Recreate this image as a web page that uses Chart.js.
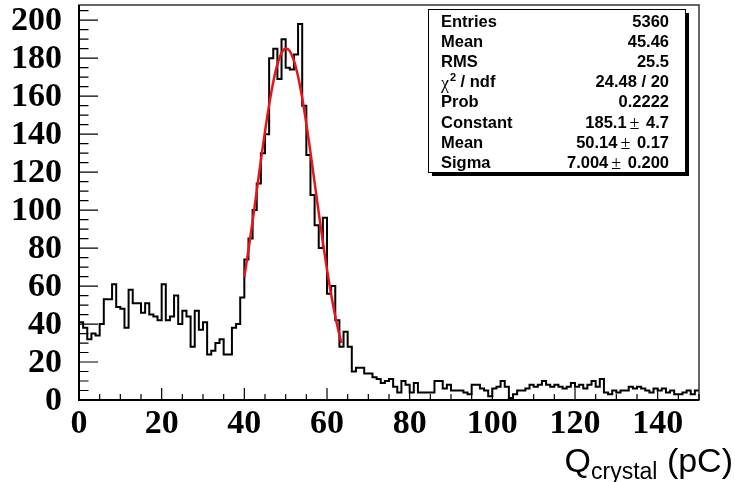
<!DOCTYPE html>
<html>
<head>
<meta charset="utf-8">
<script src="https://cdn.jsdelivr.net/npm/chart.js@4.4.1/dist/chart.umd.min.js"></script>
<style>
  html, body { margin: 0; padding: 0; background: #fff; }
  #wrap { width: 735px; height: 482px; }
</style>
</head>
<body>
<div id="wrap"><canvas id="histChart" width="735" height="482"></canvas></div>
<script>
// Histogram of Q_crystal, 150 bins of 1 pC from 0 to 150 (counts per bin)
const counts = [
  41, 38, 32, 35, 34, 40, 53, 53, 61, 49, 48, 38, 58, 51, 51, 46, 51, 45, 44, 42,
  61, 42, 44, 55, 40, 47, 44, 28, 47, 37, 41, 24, 26, 30, 32, 24, 24, 38, 40, 54,
  74, 85, 100, 114, 130, 140, 180, 185, 169, 190, 175, 174, 182, 198, 155, 129, 108, 92, 80, 96,
  56, 60, 42, 28, 36, 28, 15, 17, 17, 14, 14, 12, 11, 9, 10, 11, 7, 4, 10, 8,
  4, 9, 4, 4, 4, 4, 10, 10, 6, 8, 5, 5, 5, 4, 3, 8, 8, 6, 5, 2,
  6, 7, 10, 7, 1, 3, 5, 5, 6, 8, 7, 8, 10, 8, 7, 8, 7, 6, 7, 9,
  7, 8, 6, 8, 10, 7, 11, 4, 3, 5, 4, 5, 5, 7, 6, 7, 6, 5, 4, 6,
  5, 6, 4, 5, 3, 3, 4, 5, 3, 5
];
const binWidth = 1;

// Gaussian fit curve (red), read along the fit range 40..63.5 pC
const fitX = [40, 41, 42, 43, 44, 45, 46, 47, 48, 49, 50, 51, 52, 53, 54, 55, 56, 57, 58, 59, 60, 61, 62, 63, 63.5];
const fitY = [64.9, 79.0, 94.2, 110.1, 126.1, 141.4, 155.4, 167.4, 176.7, 182.7, 185.1, 183.7, 178.7, 170.3,
              159.0, 145.5, 130.4, 114.6, 98.6, 83.2, 68.7, 55.6, 44.1, 34.3, 30.0];

// Axis labels
const xTickLabels = [0, 20, 40, 60, 80, 100, 120, 140];
const yTickLabels = [0, 20, 40, 60, 80, 100, 120, 140, 160, 180, 200];

// Stats box
const statNames = ['Entries', 'Mean', 'RMS', 'chi2', 'Prob', 'Constant', 'Mean', 'Sigma'];
const statValues = ['5360', '45.46', '25.5', '24.48 / 20', '0.2222', '185.1|4.7', '50.14|0.17', '7.004|0.200'];

const histPoints = counts.map((c, i) => ({ x: i * binWidth, y: c }));
histPoints.push({ x: counts.length * binWidth, y: counts[counts.length - 1] });
const fitPoints = fitX.map((v, i) => ({ x: v, y: fitY[i] }));

const rootStyle = {
  id: 'rootStyle',
  afterDraw(chart) {
    const { ctx, chartArea: a, scales: { x, y } } = chart;
    ctx.save();

    // frame + axes
    ctx.strokeStyle = '#333';
    ctx.lineWidth = 1.5;
    ctx.strokeRect(a.left, a.top, a.right - a.left, a.bottom - a.top);
    ctx.strokeStyle = '#000';
    ctx.lineWidth = 2;
    ctx.beginPath();
    ctx.moveTo(a.left, a.top);
    ctx.lineTo(a.left, a.bottom);
    ctx.lineTo(a.right, a.bottom);
    ctx.stroke();

    // inside ticks
    ctx.lineWidth = 1.2;
    ctx.beginPath();
    for (let v = 0; v <= 150; v += 5) {
      const px = x.getPixelForValue(v);
      const len = v % 20 === 0 ? 12 : 6;
      ctx.moveTo(px, a.bottom);
      ctx.lineTo(px, a.bottom - len);
    }
    for (let v = 0; v <= 205; v += 5) {
      const py = y.getPixelForValue(v);
      const len = v % 20 === 0 ? 19 : 9.5;
      ctx.moveTo(a.left, py);
      ctx.lineTo(a.left + len, py);
    }
    ctx.stroke();

    // tick labels
    ctx.fillStyle = '#000';
    ctx.font = 'bold 34px "Liberation Serif", "Times New Roman", serif';
    ctx.textAlign = 'right';
    ctx.textBaseline = 'middle';
    yTickLabels.forEach(v => ctx.fillText(String(v), 62, y.getPixelForValue(v) + 1));
    ctx.textAlign = 'center';
    ctx.textBaseline = 'top';
    xTickLabels.forEach(v => ctx.fillText(String(v), x.getPixelForValue(v), 407));

    // axis title: Q_crystal (pC)
    const big = '34px "Liberation Sans", Arial, sans-serif';
    const small = '23px "Liberation Sans", Arial, sans-serif';
    ctx.textBaseline = 'alphabetic';
    ctx.textAlign = 'left';
    ctx.font = big;
    const wQ = ctx.measureText('Q').width;
    const wP = ctx.measureText(' (pC)').width;
    ctx.font = small;
    const wS = ctx.measureText('crystal').width;
    let tx = 733 - (wQ + wS + wP);
    ctx.font = big;
    ctx.fillText('Q', tx, 472);
    tx += wQ;
    ctx.font = small;
    ctx.fillText('crystal', tx, 479);
    tx += wS;
    ctx.font = big;
    ctx.fillText(' (pC)', tx, 472);

    // stats box with shadow
    const bx = 428, by = 9, bw = 257, bh = 163;
    ctx.fillStyle = '#000';
    ctx.fillRect(bx + 4, by + 4, bw, bh);
    ctx.fillStyle = '#fff';
    ctx.fillRect(bx, by, bw, bh);
    ctx.strokeStyle = '#000';
    ctx.lineWidth = 1;
    ctx.strokeRect(bx + 0.5, by + 0.5, bw, bh);

    const bold = 'bold 16.5px "Liberation Sans", Arial, sans-serif';
    const plain = '18px "Liberation Serif", serif';
    ctx.fillStyle = '#000';
    ctx.textBaseline = 'middle';
    statNames.forEach((name, i) => {
      const ry = 22 + i * 20.2;
      ctx.textAlign = 'left';
      if (name === 'chi2') {
        ctx.font = plain;
        ctx.fillText('\u03c7', 441, ry + 2);
        const wc = ctx.measureText('\u03c7').width;
        ctx.font = 'bold 11px "Liberation Sans", Arial, sans-serif';
        ctx.fillText('2', 441 + wc + 1, ry - 5);
        ctx.font = bold;
        ctx.fillText(' / ndf', 441 + wc + 7, ry);
      } else {
        ctx.font = bold;
        ctx.fillText(name, 441, ry);
      }
      const val = statValues[i];
      const right = 669;
      if (val.includes('|')) {
        const [v1, v2] = val.split('|');
        ctx.font = bold;
        const w2 = ctx.measureText(' ' + v2).width;
        const w1 = ctx.measureText(v1).width;
        ctx.font = plain;
        const wpm = ctx.measureText('\u00b1').width;
        ctx.textAlign = 'left';
        let sx = right - w2 - wpm - w1 - 5;
        ctx.font = bold;
        ctx.fillText(v1, sx, ry);
        sx += w1 + 3;
        ctx.font = plain;
        ctx.fillText('\u00b1', sx, ry + 1);
        sx += wpm + 2;
        ctx.font = bold;
        ctx.fillText(' ' + v2, sx, ry);
      } else {
        ctx.textAlign = 'right';
        ctx.font = bold;
        ctx.fillText(val, right, ry);
      }
    });
    ctx.restore();
  }
};

new Chart(document.getElementById('histChart'), {
  type: 'line',
  data: {
    datasets: [
      {
        label: 'fit',
        data: fitPoints,
        borderColor: '#e8141a',
        borderWidth: 2.5,
        pointRadius: 0,
        fill: false,
        cubicInterpolationMode: 'monotone',
        order: 0
      },
      {
        label: 'Q_crystal',
        data: histPoints,
        borderColor: '#000',
        borderWidth: 2,
        pointRadius: 0,
        fill: false,
        stepped: 'before',
        order: 1
      }
    ]
  },
  options: {
    responsive: false,
    animation: false,
    devicePixelRatio: 1,
    layout: { padding: { left: 79, top: 5, right: 36, bottom: 82 } },
    plugins: { legend: { display: false }, tooltip: { enabled: false } },
    scales: {
      x: { type: 'linear', min: 0, max: 150, display: false },
      y: { type: 'linear', min: 0, max: 208, display: false }
    }
  },
  plugins: [rootStyle]
});
</script>
</body>
</html>
